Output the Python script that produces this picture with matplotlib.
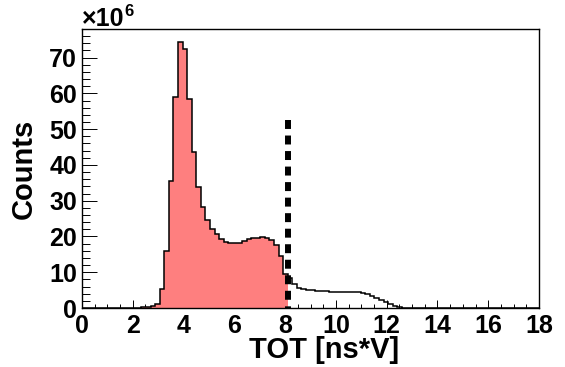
import numpy as np
import matplotlib
matplotlib.use("Agg")
import matplotlib.pyplot as plt
from matplotlib.ticker import MultipleLocator

# ---- data (counts in units of 1e6), 100 bins of width 0.18 from 0 to 18 ----
bin_edges = np.linspace(0, 18, 101)
counts_millions = [
    0, 0, 0, 0, 0, 0, 0, 0, 0, 0,
    0.03, 0.05, 0.1, 0.2, 0.3, 0.5, 1.0, 5.3, 15.8, 35.4,
    59.1, 74.3, 72.3, 58.3, 43.5, 33.9, 28.3, 24.6, 22.2, 20.7,
    19.2, 18.5, 18.3, 18.2, 18.3, 18.8, 19.3, 19.5, 19.7, 19.8,
    19.6, 19.0, 17.6, 14.5, 9.5, 8.4, 6.6, 5.6, 5.2, 5.0,
    4.9, 4.8, 4.7, 4.65, 4.6, 4.55, 4.5, 4.5, 4.45, 4.4,
    4.35, 4.2, 3.9, 3.4, 2.9, 2.2, 1.6, 1.0, 0.5, 0.2,
    0.05, 0, 0, 0, 0, 0, 0, 0, 0, 0,
    0, 0, 0, 0, 0, 0, 0, 0, 0, 0,
    0, 0, 0, 0, 0, 0, 0, 0, 0, 0,
]
cut_value = 8.1
cut_line_top = 52.5
x_label = "TOT [ns*V]"
y_label = "Counts"
x_range = (0, 18)
y_range = (0, 78)

counts = np.array(counts_millions)
n_fill = int(round(cut_value / (bin_edges[1] - bin_edges[0])))

FONT = "Liberation Sans"
plt.rcParams["font.family"] = [FONT, "DejaVu Sans"]
plt.rcParams["font.weight"] = "bold"

fig = plt.figure(figsize=(5.65, 3.67), dpi=100)
ax = fig.add_axes([82 / 565, 1 - 308 / 367, (539 - 82) / 565, (308 - 29) / 367])

red = "#fe7f7f"
ax.stairs(counts[:n_fill], bin_edges[:n_fill + 1], fill=True, color=red, zorder=2)
ax.stairs(counts, bin_edges, color="black", linewidth=1.1, zorder=3)

ax.plot([cut_value, cut_value], [cut_line_top, 0], color="black", linewidth=4.3,
        dashes=(1.5, 1.1), solid_capstyle="butt", dash_capstyle="butt", zorder=4)

ax.set_xlim(*x_range)
ax.set_ylim(*y_range)

ax.xaxis.set_major_locator(MultipleLocator(2))
ax.xaxis.set_minor_locator(MultipleLocator(0.5))
ax.yaxis.set_major_locator(MultipleLocator(10))
ax.yaxis.set_minor_locator(MultipleLocator(2))

ax.tick_params(axis="x", which="major", direction="in", length=5.5, width=0.7,
               labelsize=18, pad=4, top=False)
ax.tick_params(axis="x", which="minor", direction="in", length=3, width=0.7, top=False)
ax.tick_params(axis="y", which="major", direction="in", length=10.5, width=0.7,
               labelsize=18, pad=3.5, right=False)
ax.tick_params(axis="y", which="minor", direction="in", length=5.5, width=0.7, right=False)

for lab in ax.get_xticklabels() + ax.get_yticklabels():
    lab.set_fontweight("bold")

for sp in ax.spines.values():
    sp.set_linewidth(1.0)

ax.set_xlabel(x_label, fontsize=21, fontweight="bold")
ax.xaxis.set_label_coords((324 - 82) / 457, -(336 - 308) / 279)
ax.xaxis.label.set_verticalalignment("top")
ax.set_ylabel(y_label, fontsize=21, fontweight="bold")
ax.yaxis.set_label_coords(-(82 - 38) / 457, 0.5)

fig.text(82 / 565, 1 - 26 / 367, "×10", fontsize=18, fontweight="bold",
         ha="left", va="baseline")
fig.text(124 / 565, 1 - 16 / 367, "6", fontsize=12, fontweight="bold",
         ha="left", va="baseline")

fig.savefig("out.png", dpi=100)
